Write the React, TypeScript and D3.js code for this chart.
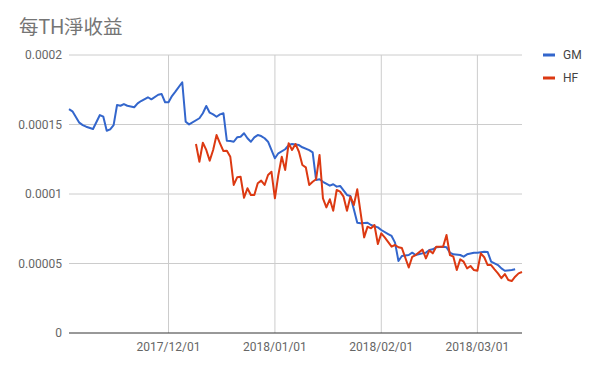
import * as d3 from "d3";

const width = 599;
const height = 369;
const margin = { top: 55, right: 77, bottom: 36, left: 69 };

const title = "每TH淨收益";

// GM: daily value per TH
const gmData: [string, number][] = [
  ["2017-11-02", 16.11e-5], ["2017-11-03", 15.95e-5], ["2017-11-05", 15.13e-5],
  ["2017-11-06", 14.96e-5], ["2017-11-07", 14.84e-5], ["2017-11-09", 14.68e-5],
  ["2017-11-11", 15.68e-5], ["2017-11-12", 15.56e-5], ["2017-11-13", 14.55e-5],
  ["2017-11-14", 14.65e-5], ["2017-11-15", 14.96e-5], ["2017-11-16", 16.4e-5],
  ["2017-11-17", 16.35e-5], ["2017-11-18", 16.47e-5], ["2017-11-19", 16.35e-5],
  ["2017-11-21", 16.24e-5], ["2017-11-22", 16.52e-5], ["2017-11-23", 16.69e-5],
  ["2017-11-25", 16.96e-5], ["2017-11-26", 16.81e-5], ["2017-11-28", 17.14e-5],
  ["2017-11-29", 17.19e-5], ["2017-11-30", 16.6e-5], ["2017-12-01", 16.6e-5],
  ["2017-12-02", 17.05e-5], ["2017-12-03", 17.36e-5], ["2017-12-05", 18.04e-5],
  ["2017-12-06", 15.2e-5], ["2017-12-07", 15.01e-5], ["2017-12-10", 15.45e-5],
  ["2017-12-11", 15.81e-5], ["2017-12-12", 16.33e-5], ["2017-12-13", 15.85e-5],
  ["2017-12-14", 15.73e-5], ["2017-12-15", 15.56e-5], ["2017-12-16", 15.73e-5],
  ["2017-12-17", 15.81e-5], ["2017-12-18", 13.83e-5], ["2017-12-19", 13.81e-5],
  ["2017-12-20", 13.76e-5], ["2017-12-21", 14.08e-5], ["2017-12-22", 14.12e-5],
  ["2017-12-23", 14.37e-5], ["2017-12-24", 14.01e-5], ["2017-12-25", 13.76e-5],
  ["2017-12-26", 14.08e-5], ["2017-12-27", 14.24e-5], ["2017-12-28", 14.17e-5],
  ["2017-12-29", 14.01e-5], ["2017-12-30", 13.76e-5], ["2018-01-01", 12.57e-5],
  ["2018-01-02", 12.93e-5], ["2018-01-04", 13.22e-5], ["2018-01-05", 13.52e-5],
  ["2018-01-06", 13.6e-5], ["2018-01-08", 13.52e-5], ["2018-01-09", 13.36e-5],
  ["2018-01-11", 13.16e-5], ["2018-01-12", 13.0e-5], ["2018-01-13", 11.01e-5],
  ["2018-01-14", 11.06e-5], ["2018-01-15", 10.88e-5], ["2018-01-17", 10.6e-5],
  ["2018-01-18", 10.7e-5], ["2018-01-19", 10.53e-5], ["2018-01-20", 10.58e-5],
  ["2018-01-22", 9.93e-5], ["2018-01-23", 9.86e-5], ["2018-01-24", 8.9e-5],
  ["2018-01-25", 7.93e-5], ["2018-01-26", 7.89e-5], ["2018-01-28", 7.93e-5],
  ["2018-01-29", 7.77e-5], ["2018-01-31", 7.6e-5], ["2018-02-01", 7.41e-5],
  ["2018-02-03", 7.12e-5], ["2018-02-04", 6.98e-5], ["2018-02-05", 6.5e-5],
  ["2018-02-06", 5.18e-5], ["2018-02-07", 5.54e-5], ["2018-02-09", 5.61e-5],
  ["2018-02-10", 5.78e-5], ["2018-02-11", 5.61e-5], ["2018-02-13", 5.73e-5],
  ["2018-02-14", 5.78e-5], ["2018-02-15", 5.97e-5], ["2018-02-16", 6.02e-5],
  ["2018-02-17", 6.17e-5], ["2018-02-19", 6.21e-5], ["2018-02-20", 6.17e-5],
  ["2018-02-21", 5.78e-5], ["2018-02-22", 5.66e-5], ["2018-02-24", 5.61e-5],
  ["2018-02-25", 5.49e-5], ["2018-02-26", 5.66e-5], ["2018-02-28", 5.78e-5],
  ["2018-03-01", 5.78e-5], ["2018-03-03", 5.85e-5], ["2018-03-04", 5.83e-5],
  ["2018-03-05", 5.13e-5], ["2018-03-07", 4.89e-5], ["2018-03-08", 4.65e-5],
  ["2018-03-09", 4.48e-5], ["2018-03-11", 4.53e-5], ["2018-03-12", 4.58e-5],
];

// HF
const hfData: [string, number][] = [
  ["2017-12-09", 13.6e-5], ["2017-12-10", 12.32e-5], ["2017-12-11", 13.69e-5],
  ["2017-12-12", 13.17e-5], ["2017-12-13", 12.4e-5], ["2017-12-14", 13.17e-5],
  ["2017-12-15", 14.24e-5], ["2017-12-16", 13.65e-5], ["2017-12-17", 13.09e-5],
  ["2017-12-18", 13.11e-5], ["2017-12-19", 12.68e-5], ["2017-12-20", 10.65e-5],
  ["2017-12-21", 11.2e-5], ["2017-12-22", 11.24e-5], ["2017-12-23", 9.73e-5],
  ["2017-12-24", 10.41e-5], ["2017-12-25", 9.93e-5], ["2017-12-26", 9.93e-5],
  ["2017-12-27", 10.77e-5], ["2017-12-28", 10.96e-5], ["2017-12-29", 10.65e-5],
  ["2017-12-30", 11.37e-5], ["2017-12-31", 11.6e-5], ["2018-01-01", 9.69e-5],
  ["2018-01-02", 11.37e-5], ["2018-01-03", 12.68e-5], ["2018-01-04", 11.73e-5],
  ["2018-01-05", 13.65e-5], ["2018-01-06", 13.17e-5], ["2018-01-07", 13.6e-5],
  ["2018-01-08", 13.04e-5], ["2018-01-09", 12.09e-5], ["2018-01-10", 11.92e-5],
  ["2018-01-11", 10.65e-5], ["2018-01-12", 10.88e-5], ["2018-01-13", 11.06e-5],
  ["2018-01-14", 12.81e-5], ["2018-01-15", 9.69e-5], ["2018-01-16", 9.04e-5],
  ["2018-01-17", 9.62e-5], ["2018-01-18", 8.8e-5], ["2018-01-19", 10.29e-5],
  ["2018-01-20", 10.17e-5], ["2018-01-21", 9.81e-5], ["2018-01-22", 8.8e-5],
  ["2018-01-23", 9.81e-5], ["2018-01-24", 9.21e-5], ["2018-01-25", 10.34e-5],
  ["2018-01-26", 8.61e-5], ["2018-01-27", 6.88e-5], ["2018-01-28", 7.65e-5],
  ["2018-01-29", 7.53e-5], ["2018-01-30", 7.77e-5], ["2018-01-31", 6.4e-5],
  ["2018-02-01", 7.17e-5], ["2018-02-02", 6.88e-5], ["2018-02-04", 6.21e-5],
  ["2018-02-05", 6.33e-5], ["2018-02-06", 6.17e-5], ["2018-02-07", 6.11e-5],
  ["2018-02-09", 4.71e-5], ["2018-02-10", 5.47e-5], ["2018-02-11", 5.61e-5],
  ["2018-02-13", 6.0e-5], ["2018-02-14", 5.37e-5], ["2018-02-15", 5.94e-5],
  ["2018-02-16", 5.73e-5], ["2018-02-17", 6.21e-5], ["2018-02-19", 6.21e-5],
  ["2018-02-20", 7.05e-5], ["2018-02-21", 5.61e-5], ["2018-02-22", 5.49e-5],
  ["2018-02-23", 4.53e-5], ["2018-02-24", 5.3e-5], ["2018-02-25", 5.13e-5],
  ["2018-02-26", 4.65e-5], ["2018-02-27", 4.82e-5], ["2018-02-28", 4.53e-5],
  ["2018-03-01", 4.48e-5], ["2018-03-02", 5.73e-5], ["2018-03-03", 5.45e-5],
  ["2018-03-04", 4.89e-5], ["2018-03-05", 4.89e-5], ["2018-03-06", 4.58e-5],
  ["2018-03-07", 4.29e-5], ["2018-03-08", 3.94e-5], ["2018-03-09", 4.24e-5],
  ["2018-03-10", 3.81e-5], ["2018-03-11", 3.74e-5], ["2018-03-12", 4.05e-5],
  ["2018-03-13", 4.29e-5], ["2018-03-14", 4.39e-5],
];

const xTicks = ["2017-12-01", "2018-01-01", "2018-02-01", "2018-03-01"];
const yTicks = [0, 0.00005, 0.0001, 0.00015, 0.0002];
const yTickLabels = ["0", "0.00005", "0.0001", "0.00015", "0.0002"];
const xDomain = ["2017-11-02", "2018-03-14"];

const series = [
  { name: "GM", color: "#3366cc", data: gmData },
  { name: "HF", color: "#dc3912", data: hfData },
];

const parse = d3.timeParse("%Y-%m-%d");
const fmt = d3.timeFormat("%Y/%m/%d");
const font = "Roboto, 'Noto Sans CJK TC', Arial, sans-serif";

export default function App() {
  const x = d3
    .scaleTime()
    .domain(xDomain.map((d) => parse(d) as Date))
    .range([margin.left, width - margin.right]);
  const y = d3
    .scaleLinear()
    .domain([0, 0.0002])
    .range([height - margin.bottom, margin.top]);

  const line = d3
    .line<[string, number]>()
    .x((d) => x(parse(d[0]) as Date))
    .y((d) => y(d[1]));

  return (
    <svg
      width={width}
      height={height}
      style={{ position: "absolute", left: 0, top: 0, background: "#fff" }}
      fontFamily={font}
    >
      <text x={19} y={34} fontSize={19.5} fill="#757575">
        {title}
      </text>

      {/* 横向网格和Y轴标签 */}
      {yTicks.map((t, i) => (
        <g key={"y" + i}>
          {t !== 0 && (
            <line x1={margin.left} x2={width - margin.right} y1={y(t)} y2={y(t)} stroke="#cccccc" />
          )}
          <text x={margin.left - 7} y={y(t)} dy="0.35em" textAnchor="end" fontSize={12} fill="#666">
            {yTickLabels[i]}
          </text>
        </g>
      ))}

      {/* 纵向网格和X轴标签 */}
      {xTicks.map((t) => {
        const px = x(parse(t) as Date);
        return (
          <g key={t}>
            <line x1={px} x2={px} y1={margin.top} y2={height - margin.bottom} stroke="#cccccc" />
            <text x={px} y={height - margin.bottom + 18} textAnchor="middle" fontSize={12} fill="#666">
              {fmt(parse(t) as Date)}
            </text>
          </g>
        );
      })}

      <line
        x1={margin.left}
        x2={width - margin.right}
        y1={y(0)}
        y2={y(0)}
        stroke="#333"
      />

      {series.map((s) => (
        <path
          key={s.name}
          d={line(s.data) || ""}
          fill="none"
          stroke={s.color}
          strokeWidth={2}
          strokeLinejoin="round"
        />
      ))}

      {/* 图例 */}
      {series.map((s, i) => (
        <g key={"lg" + s.name} transform={`translate(543,${55 + i * 23})`}>
          <rect x={0} y={-1.5} width={12} height={3} fill={s.color} />
          <text x={20} y={0} dy="0.35em" fontSize={12} fill="#444">
            {s.name}
          </text>
        </g>
      ))}
    </svg>
  );
}
